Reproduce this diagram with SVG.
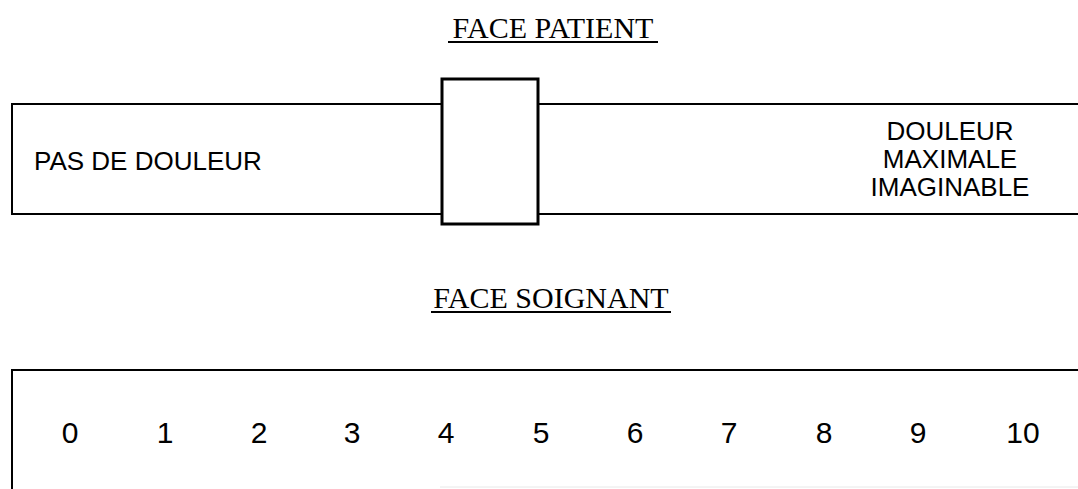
<svg xmlns="http://www.w3.org/2000/svg" width="1078" height="489" viewBox="0 0 1078 489">
  <style>
    .title { font-family: "Liberation Serif", "Times New Roman", serif; font-size: 30px; fill: #000; text-anchor: middle; }
    .lbl { font-family: "Liberation Sans", Arial, sans-serif; font-size: 26px; fill: #000; }
    .num { font-family: "Liberation Sans", Arial, sans-serif; font-size: 30px; fill: #000; text-anchor: middle; }
    .edge { fill: none; stroke: #000; stroke-width: 2; }
    .ul { stroke: #000; stroke-width: 2; }
  </style>
  <rect width="1078" height="489" fill="#fff"/>

  <g id="title-patient">
    <text class="title" x="553" y="38">FACE PATIENT</text>
    <line class="ul" x1="448" y1="42" x2="658" y2="42"/>
  </g>

  <g id="patient-scale">
    <path class="edge" d="M1078,104 H12 V214 H1078"/>
    <text class="lbl" x="34" y="170">PAS DE DOULEUR</text>
    <text class="lbl" x="950" y="140" text-anchor="middle">DOULEUR</text>
    <text class="lbl" x="950" y="168" text-anchor="middle">MAXIMALE</text>
    <text class="lbl" x="950" y="196" text-anchor="middle">IMAGINABLE</text>
  </g>

  <g id="slider">
    <rect x="442" y="79" width="96" height="145" fill="#fff" stroke="#000" stroke-width="3"/>
  </g>

  <g id="title-soignant">
    <text class="title" x="551" y="308">FACE SOIGNANT</text>
    <line class="ul" x1="431" y1="312" x2="671" y2="312"/>
  </g>

  <g id="soignant-scale">
    <path class="edge" d="M1078,370 H12 V489"/>
    <line x1="440" y1="487" x2="1078" y2="487" stroke="#e8e8e8" stroke-width="1"/>
    <text class="num" x="70" y="443">0</text>
    <text class="num" x="165" y="443">1</text>
    <text class="num" x="259" y="443">2</text>
    <text class="num" x="352" y="443">3</text>
    <text class="num" x="446" y="443">4</text>
    <text class="num" x="541" y="443">5</text>
    <text class="num" x="635" y="443">6</text>
    <text class="num" x="729" y="443">7</text>
    <text class="num" x="824" y="443">8</text>
    <text class="num" x="918" y="443">9</text>
    <text class="num" x="1023" y="443">10</text>
  </g>
</svg>
